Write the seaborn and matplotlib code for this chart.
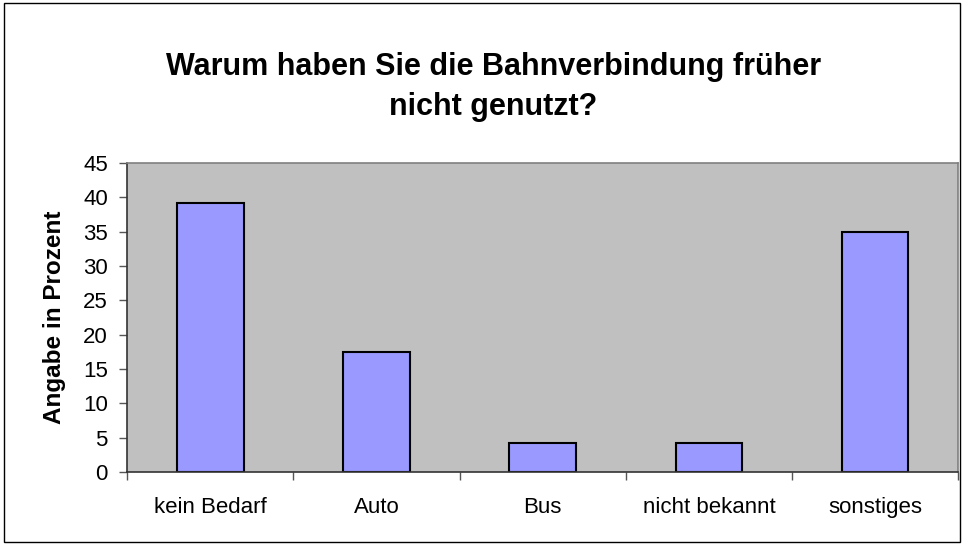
import pandas as pd
import numpy as np
import matplotlib
matplotlib.use('Agg')
import matplotlib.pyplot as plt
import seaborn as sns
from matplotlib.patches import Rectangle

sns.set_style('white')
plt.rcParams['font.family'] = ['Liberation Sans', 'DejaVu Sans']
plt.rcParams['text.color'] = 'black'
plt.rcParams['xtick.color'] = 'black'
plt.rcParams['ytick.color'] = 'black'
plt.rcParams['axes.labelcolor'] = 'black'

categories = ['kein Bedarf', 'Auto', 'Bus', 'nicht bekannt', 'sonstiges']
percent = [39.1, 17.4, 4.2, 4.2, 34.9]
y_ticks = [0, 5, 10, 15, 20, 25, 30, 35, 40, 45]

df = pd.DataFrame({'Grund': categories, 'Prozent': percent})

fig = plt.figure(figsize=(9.64, 5.45), dpi=100)
fig.patches.append(Rectangle((0.004, 0.006), 0.992, 0.988, transform=fig.transFigure,
                             fill=False, edgecolor='black', linewidth=1.0))

ax = fig.add_axes([0.132, 0.134, 0.862, 0.567])
sns.barplot(data=df, x='Grund', y='Prozent', color='#9999FF', width=0.4,
            edgecolor='black', linewidth=1.5, saturation=1, ax=ax)
ax.set_facecolor('#C0C0C0')
ax.set_ylim(0, 45)
ax.set_xlim(-0.5, 4.5)
ax.set_yticks(y_ticks)
ax.set_xticks(np.arange(-0.5, 5, 1), minor=True)
ax.tick_params(axis='x', which='major', length=0, pad=18, labelsize=16)
ax.tick_params(axis='x', which='minor', length=6, width=1, color='#555555', direction='out', bottom=True)
ax.tick_params(axis='y', length=6, width=1, color='#555555', direction='out', left=True,
               labelsize=16, pad=8)
for side in ['top', 'right']:
    ax.spines[side].set_color('#808080')
    ax.spines[side].set_linewidth(1.2)
for side in ['left', 'bottom']:
    ax.spines[side].set_color('#333333')
    ax.spines[side].set_linewidth(1.2)
ax.set_xlabel('')
ax.set_ylabel('Angabe in Prozent', fontsize=17.5, fontweight='bold', labelpad=12)

fig.text(0.512, 0.84, 'Warum haben Sie die Bahnverbindung früher\nnicht genutzt?',
         ha='center', va='center', fontsize=22, fontweight='bold', linespacing=1.45)

fig.savefig('out.png', dpi=100)
